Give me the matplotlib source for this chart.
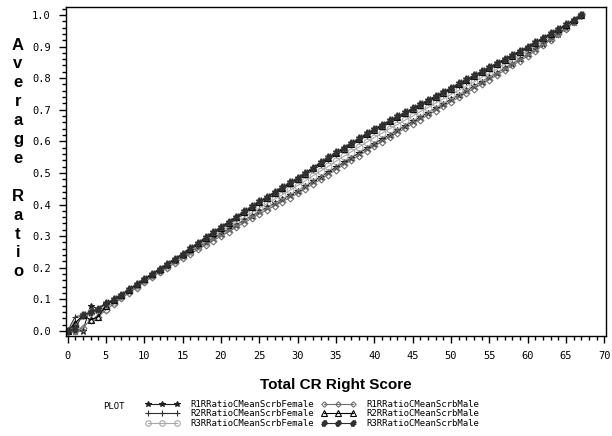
import matplotlib
matplotlib.use("Agg")
import matplotlib.pyplot as plt
from matplotlib.ticker import MultipleLocator
import numpy as np

# Total CR right score, 0..67
score = list(range(68))

r1_female = [0.0, 0.0, 0.0, 0.080, 0.070, 0.085, 0.094, 0.110, 0.127, 0.144,
             0.160, 0.176, 0.191, 0.207, 0.222, 0.237, 0.251, 0.265, 0.280, 0.294,
             0.308, 0.322, 0.336, 0.350, 0.364, 0.378, 0.391, 0.404, 0.417, 0.430,
             0.443, 0.458, 0.473, 0.488, 0.503, 0.518, 0.533, 0.548, 0.563, 0.578,
             0.593, 0.607, 0.621, 0.635, 0.649, 0.663, 0.677, 0.691, 0.705, 0.719,
             0.733, 0.747, 0.761, 0.775, 0.789, 0.803, 0.817, 0.832, 0.846, 0.861,
             0.876, 0.892, 0.908, 0.925, 0.941, 0.958, 0.979, 1.0]
r2_female = [0.0, 0.045, 0.050, 0.060, 0.070, 0.088, 0.098, 0.112, 0.129, 0.145,
             0.161, 0.177, 0.193, 0.208, 0.224, 0.240, 0.256, 0.273, 0.290, 0.306,
             0.323, 0.339, 0.355, 0.371, 0.386, 0.402, 0.417, 0.432, 0.447, 0.462,
             0.477, 0.493, 0.509, 0.525, 0.541, 0.557, 0.572, 0.587, 0.602, 0.617,
             0.632, 0.645, 0.658, 0.672, 0.685, 0.698, 0.711, 0.724, 0.737, 0.750,
             0.763, 0.776, 0.789, 0.802, 0.815, 0.828, 0.842, 0.855, 0.868, 0.881,
             0.895, 0.909, 0.923, 0.938, 0.952, 0.966, 0.983, 1.0]
r3_female = [0.0, 0.020, 0.050, 0.060, 0.066, 0.070, 0.092, 0.109, 0.126, 0.142,
             0.159, 0.175, 0.190, 0.206, 0.221, 0.237, 0.252, 0.268, 0.283, 0.299,
             0.314, 0.329, 0.344, 0.359, 0.374, 0.389, 0.403, 0.417, 0.431, 0.445,
             0.460, 0.475, 0.491, 0.506, 0.521, 0.537, 0.552, 0.567, 0.582, 0.597,
             0.612, 0.626, 0.640, 0.653, 0.667, 0.680, 0.694, 0.707, 0.721, 0.734,
             0.748, 0.761, 0.775, 0.788, 0.802, 0.815, 0.829, 0.843, 0.857, 0.871,
             0.885, 0.900, 0.916, 0.931, 0.947, 0.962, 0.981, 1.0]
r1_male = [0.0, 0.0, 0.010, 0.035, 0.045, 0.066, 0.085, 0.103, 0.120, 0.137,
           0.155, 0.170, 0.185, 0.200, 0.215, 0.230, 0.244, 0.258, 0.272, 0.286,
           0.300, 0.314, 0.328, 0.342, 0.356, 0.370, 0.383, 0.396, 0.409, 0.422,
           0.435, 0.450, 0.465, 0.480, 0.495, 0.510, 0.525, 0.540, 0.555, 0.570,
           0.585, 0.599, 0.613, 0.627, 0.641, 0.655, 0.669, 0.683, 0.697, 0.711,
           0.725, 0.739, 0.753, 0.767, 0.781, 0.795, 0.810, 0.825, 0.840, 0.855,
           0.870, 0.887, 0.904, 0.921, 0.938, 0.955, 0.977, 1.0]
r2_male = [0.0, 0.025, 0.050, 0.035, 0.045, 0.080, 0.099, 0.114, 0.131, 0.147,
           0.163, 0.179, 0.195, 0.211, 0.227, 0.243, 0.260, 0.277, 0.293, 0.310,
           0.327, 0.343, 0.359, 0.375, 0.391, 0.407, 0.422, 0.437, 0.452, 0.467,
           0.482, 0.498, 0.514, 0.530, 0.546, 0.562, 0.577, 0.592, 0.607, 0.622,
           0.637, 0.650, 0.663, 0.676, 0.689, 0.702, 0.715, 0.728, 0.741, 0.754,
           0.767, 0.780, 0.793, 0.806, 0.819, 0.832, 0.845, 0.858, 0.871, 0.884,
           0.898, 0.912, 0.926, 0.940, 0.954, 0.968, 0.984, 1.0]
r3_male = [0.0, 0.010, 0.050, 0.060, 0.070, 0.088, 0.100, 0.115, 0.132, 0.148,
           0.165, 0.181, 0.197, 0.213, 0.229, 0.245, 0.262, 0.279, 0.296, 0.313,
           0.330, 0.346, 0.362, 0.378, 0.394, 0.410, 0.425, 0.440, 0.455, 0.470,
           0.485, 0.501, 0.517, 0.533, 0.549, 0.565, 0.580, 0.595, 0.610, 0.625,
           0.640, 0.653, 0.666, 0.679, 0.692, 0.705, 0.718, 0.731, 0.744, 0.757,
           0.770, 0.783, 0.796, 0.809, 0.822, 0.835, 0.848, 0.861, 0.874, 0.887,
           0.900, 0.914, 0.928, 0.942, 0.956, 0.970, 0.985, 1.0]

x_ticks = list(range(0, 71, 5))
y_ticks = [0.0, 0.1, 0.2, 0.3, 0.4, 0.5, 0.6, 0.7, 0.8, 0.9, 1.0]

series = [
    ("R1RRatioCMeanScrbFemale", r1_female, "*", "#202020", True),
    ("R2RRatioCMeanScrbFemale", r2_female, "+", "#303030", True),
    ("R3RRatioCMeanScrbFemale", r3_female, "o", "#a8a8a8", False),
    ("R1RRatioCMeanScrbMale", r1_male, "D", "#707070", False),
    ("R2RRatioCMeanScrbMale", r2_male, "^", "#000000", False),
    ("R3RRatioCMeanScrbMale", r3_male, r"$\#$", "#303030", True),
]

mono = "DejaVu Sans Mono"

fig = plt.figure(figsize=(6.12, 4.36), dpi=100)
ax = fig.add_axes([66 / 612, 1 - 336 / 436, 540 / 612, 329 / 436])

handles = []
for label, vals, mk, col, filled in series:
    ms = 5 if mk != "D" else 3.5
    h, = ax.plot(score, vals, color=col, lw=0.8, marker=mk, ms=ms,
                 mfc=col if filled else "none", mec=col, mew=0.8, label=label)
    handles.append(h)

ax.set_xlim(-0.2, 70.2)
ax.set_ylim(-0.016, 1.025)
ax.xaxis.set_minor_locator(MultipleLocator(1))
ax.yaxis.set_minor_locator(MultipleLocator(0.02))
ax.tick_params(which="major", direction="out", length=5, width=1, pad=6)
ax.tick_params(which="minor", direction="out", length=3, width=1)
for sp in ax.spines.values():
    sp.set_linewidth(1)

ax.set_xticks(x_ticks)
ax.set_xticklabels([str(v) for v in x_ticks], family=mono, fontsize=7.5)
ax.set_yticks(y_ticks)
ax.set_yticklabels([f"{v:.1f}" for v in y_ticks], family=mono, fontsize=7.5)

ax.set_xlabel("Total CR Right Score", fontsize=11, fontweight="bold",
              family="Liberation Sans", labelpad=12)

# vertical y label, one letter per line
ylab = "Average Ratio"
for i, ch in enumerate(ylab):
    fig.text(18 / 612, 1 - (45 + 18.9 * i) / 436, ch, fontsize=12, fontweight="bold",
             family="Liberation Sans", ha="center", va="center")

fig.text(103 / 612, 1 - 406 / 436, "PLOT", family=mono, fontsize=6.5, va="center")
fig.legend(handles=handles, loc="upper left", bbox_to_anchor=(145 / 612, 1 - 400 / 436),
           ncol=2, frameon=False, numpoints=3, handlelength=3.8, handletextpad=1.2,
           labelspacing=0.05, columnspacing=0.8, borderaxespad=0, borderpad=0,
           prop={"family": mono, "size": 6.5}, markerscale=0.8)

fig.savefig("out.png", dpi=100)
